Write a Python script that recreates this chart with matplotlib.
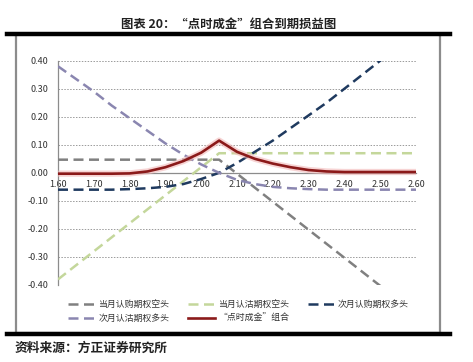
import matplotlib
matplotlib.use("Agg")
import matplotlib.pyplot as plt
from matplotlib.lines import Line2D
from matplotlib.patches import Rectangle

plt.rcParams['font.family'] = ['Noto Sans CJK SC', 'DejaVu Sans']

# ---- data ----
prices = [1.60, 1.65, 1.70, 1.75, 1.80, 1.85, 1.90, 1.95, 2.00, 2.05,
          2.10, 2.15, 2.20, 2.25, 2.30, 2.35, 2.40, 2.45, 2.50, 2.55, 2.60]
short_call_cur = [0.047, 0.047, 0.047, 0.047, 0.047, 0.047, 0.047, 0.047, 0.047, 0.047,
                  -0.003, -0.053, -0.103, -0.153, -0.203, -0.253, -0.303, -0.353, -0.403, -0.453, -0.503]
short_put_cur = [-0.38, -0.33, -0.28, -0.23, -0.18, -0.13, -0.08, -0.03, 0.02, 0.07,
                 0.07, 0.07, 0.07, 0.07, 0.07, 0.07, 0.07, 0.07, 0.07, 0.07, 0.07]
long_call_next = [-0.06, -0.06, -0.06, -0.06, -0.058, -0.055, -0.05, -0.04, -0.022, 0.0,
                  0.035, 0.075, 0.115, 0.16, 0.205, 0.25, 0.30, 0.35, 0.40, 0.45, 0.50]
long_put_next = [0.38, 0.335, 0.29, 0.24, 0.195, 0.15, 0.105, 0.065, 0.03, 0.0,
                 -0.025, -0.04, -0.05, -0.055, -0.058, -0.06, -0.06, -0.06, -0.06, -0.06, -0.06]
combo = [-0.003, -0.003, -0.003, -0.003, -0.002, 0.005, 0.02, 0.042, 0.072, 0.115,
         0.075, 0.05, 0.033, 0.02, 0.01, 0.005, 0.003, 0.003, 0.003, 0.003, 0.003]

labels = ["当月认购期权空头", "当月认沽期权空头", "次月认购期权多头",
          "次月认沽期权多头", "“点时成金”组合"]
xticks = [1.60, 1.70, 1.80, 1.90, 2.00, 2.10, 2.20, 2.30, 2.40, 2.50, 2.60]
yticks = [-0.40, -0.30, -0.20, -0.10, 0.00, 0.10, 0.20, 0.30, 0.40]

title = "图表 20：“点时成金”组合到期损益图"
source = "资料来源：方正证券研究所"

# ---- figure ----
W, H = 473, 362
fig = plt.figure(figsize=(W / 100, H / 100), dpi=100)

# frame box
fig.patches.append(Rectangle((16 / W, 1 - 333 / H), (440 - 16) / W, (333 - 34) / H,
                             transform=fig.transFigure, fill=False,
                             edgecolor='#8c8c8c', lw=1.6, zorder=0))
# thick black rules
fig.lines.append(Line2D([7 / W, 450 / W], [1 - 34 / H, 1 - 34 / H],
                        transform=fig.transFigure, color='black', lw=3.2))
fig.lines.append(Line2D([7 / W, 450 / W], [1 - 334 / H, 1 - 334 / H],
                        transform=fig.transFigure, color='black', lw=3.2))

fig.text(229 / W, 1 - 24 / H, title, ha='center', va='center',
         fontsize=8.9, fontweight='bold', color='#222222')
fig.text(15 / W, 1 - 348 / H, source, ha='left', va='center',
         fontsize=9.2, style='italic', fontweight='bold', color='#222222')

ax = fig.add_axes([58 / W, 1 - 285 / H, (416 - 58) / W, (285 - 60.7) / H])
ax.set_xlim(1.60, 2.60)
ax.set_ylim(-0.40, 0.40)

for y in yticks:
    if y != 0:
        ax.axhline(y, color='#9a9a9a', lw=0.7, ls=(0, (1.5, 1.5)), zorder=1)

dash = (0, (4, 2.2))
l1, = ax.plot(prices, short_call_cur, color='#808080', lw=1.8, ls=dash, label=labels[0], zorder=3)
l2, = ax.plot(prices, short_put_cur, color='#c4d79b', lw=1.8, ls=dash, label=labels[1], zorder=3)
l3, = ax.plot(prices, long_call_next, color='#1f3a5f', lw=1.8, ls=dash, label=labels[2], zorder=3)
l4, = ax.plot(prices, long_put_next, color='#8a86b0', lw=1.8, ls=dash, label=labels[3], zorder=3)
ax.plot(prices, combo, color='#f2b8b8', lw=4.5, alpha=0.6, zorder=3.5)
l5, = ax.plot(prices, combo, color='#8b1a1a', lw=1.9, label=labels[4], zorder=4)

ax.spines['top'].set_visible(False)
ax.spines['right'].set_visible(False)
ax.spines['bottom'].set_position(('data', 0))
ax.spines['bottom'].set_color('#8c8c8c')
ax.spines['left'].set_color('#8c8c8c')
ax.spines['bottom'].set_linewidth(0.9)
ax.spines['left'].set_linewidth(0.9)
ax.set_xticks(xticks)
ax.set_xticklabels([f"{v:.2f}" for v in xticks])
ax.set_yticks(yticks)
ax.set_yticklabels([f"{v:.2f}" for v in yticks])
ax.tick_params(axis='both', length=0, labelsize=6.5, colors='#333333')
ax.tick_params(axis='x', pad=5)
ax.tick_params(axis='y', pad=7)
ax.set_facecolor('none')

# column-major order so rows read: l1 l2 l3 / l4 l5
handles = [l1, l4, l2, l5, l3]
leg = fig.legend(handles, [h.get_label() for h in handles], ncol=3, loc='upper left',
                 bbox_to_anchor=(60 / W, 1 - 292 / H), frameon=False,
                 fontsize=6.4, handlelength=3.0, handletextpad=0.4,
                 columnspacing=2.1, labelspacing=0.55)
for t in leg.get_texts():
    t.set_color('#333333')

fig.savefig("out.png", dpi=100)
